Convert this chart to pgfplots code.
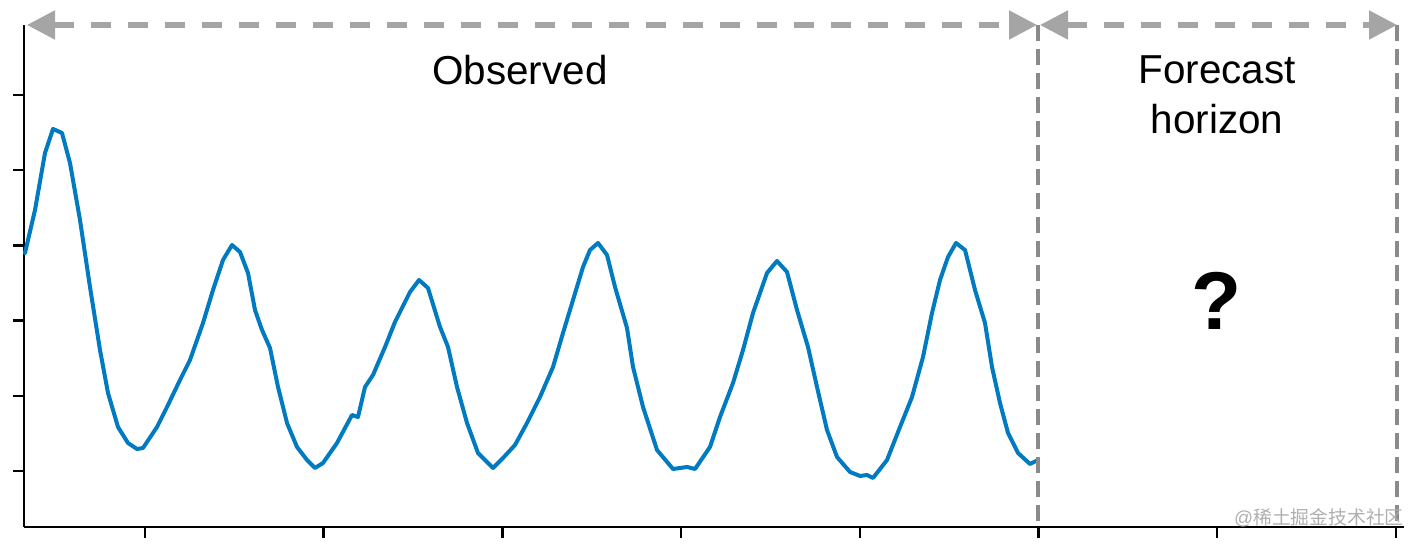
\documentclass[border=0pt]{standalone}
\usepackage{pgfplots}
\pgfplotsset{compat=1.18}
\usepackage{pgfplotstable}
\usepackage{fontspec}
\setmainfont{Liberation Sans}
\newfontfamily\cjk{Noto Sans CJK SC}
\usetikzlibrary{arrows.meta}
\definecolor{series}{RGB}{0,122,192}
\definecolor{arrowgray}{RGB}{165,165,165}
\definecolor{linegray}{RGB}{138,138,138}
\definecolor{wmgray}{RGB}{175,175,175}

\pgfplotstableread{
px py
25 253
35 210
45 153
53 129
62 133
70 163
80 220
90 287
100 350
108 393
118 427
128 443
137 449
143 448
157 427
167 407
180 380
190 360
203 323
213 290
223 260
232 245
240 252
248 273
255 310
262 330
270 348
278 387
287 423
297 447
307 460
315 468
323 463
337 443
352 415
358 417
365 387
373 375
385 347
395 322
410 292
419 280
428 288
440 327
448 347
457 387
467 423
478 453
493 468
503 458
515 445
527 423
540 397
553 367
563 333
573 300
583 267
590 250
598 243
607 255
615 287
627 328
633 367
643 407
657 450
673 469
687 467
695 469
710 447
720 417
733 383
743 350
753 313
767 273
777 261
787 272
797 310
808 347
817 387
827 430
837 457
850 472
860 476
867 475
873 478
887 460
900 427
912 397
923 357
932 313
940 280
948 257
956 243
965 250
975 290
985 323
992 367
1000 403
1008 433
1018 453
1030 464
1038 460
}\observed

\begin{document}
\begin{tikzpicture}
\begin{axis}[
  scale only axis,
  width=690pt, height=251pt,
  xmin=24, xmax=1404,
  ymin=18, ymax=520,
  clip=false,
  axis lines*=left,
  axis line style={line width=1.25pt, black},
  tick align=outside,
  major tick length=5.5pt,
  tick style={line width=1.25pt, black},
  xtick={145,323.7,502.4,681.1,859.8,1038.5,1217.2,1395.9},
  ytick={74,149.2,224.4,299.6,374.8,450},
  xticklabels={,,,,,,,,},
  yticklabels={,,,,,,},
  tick label style={overlay, inner sep=0pt},
]
\path (axis cs:0,0) rectangle (axis cs:1422,545);
\addplot[series, line width=2pt, line join=round, line cap=round, mark=none]
  table[x=px, y expr=545-\thisrow{py}] {\observed};
% vertical dashed boundaries
\draw[linegray, line width=2pt, dash pattern=on 8pt off 4pt]
  (axis cs:1038,520) -- (axis cs:1038,16);
\draw[linegray, line width=2pt, dash pattern=on 8pt off 4pt]
  (axis cs:1397,520) -- (axis cs:1397,16);
% horizontal arrows
\draw[arrowgray, line width=2.6pt, dash pattern=on 10pt off 8.5pt,
  {Triangle[length=14pt,width=14pt]}-{Triangle[length=14pt,width=14pt]}]
  (axis cs:27,520) -- (axis cs:1037,520);
\draw[arrowgray, line width=2.6pt, dash pattern=on 10pt off 8.5pt,
  {Triangle[length=14pt,width=14pt]}-{Triangle[length=14pt,width=14pt]}]
  (axis cs:1040,520) -- (axis cs:1397,520);
% labels
\node[anchor=base, font=\fontsize{20.2pt}{24pt}\selectfont] at (axis cs:520,460) {Observed};
\node[anchor=base, font=\fontsize{20.2pt}{24pt}\selectfont] at (axis cs:1217,461) {Forecast};
\node[anchor=base, font=\fontsize{20.2pt}{24pt}\selectfont] at (axis cs:1217,411) {horizon};
\node[anchor=base, font=\fontsize{41pt}{48pt}\selectfont\bfseries] at (axis cs:1217,215) {?};
\node[anchor=base east, text=wmgray, inner sep=0pt, font=\fontsize{9.4pt}{12pt}\selectfont] at (axis cs:1404,20) {@{\cjk 稀土掘金技术社区}};
\end{axis}
\end{tikzpicture}
\end{document}
